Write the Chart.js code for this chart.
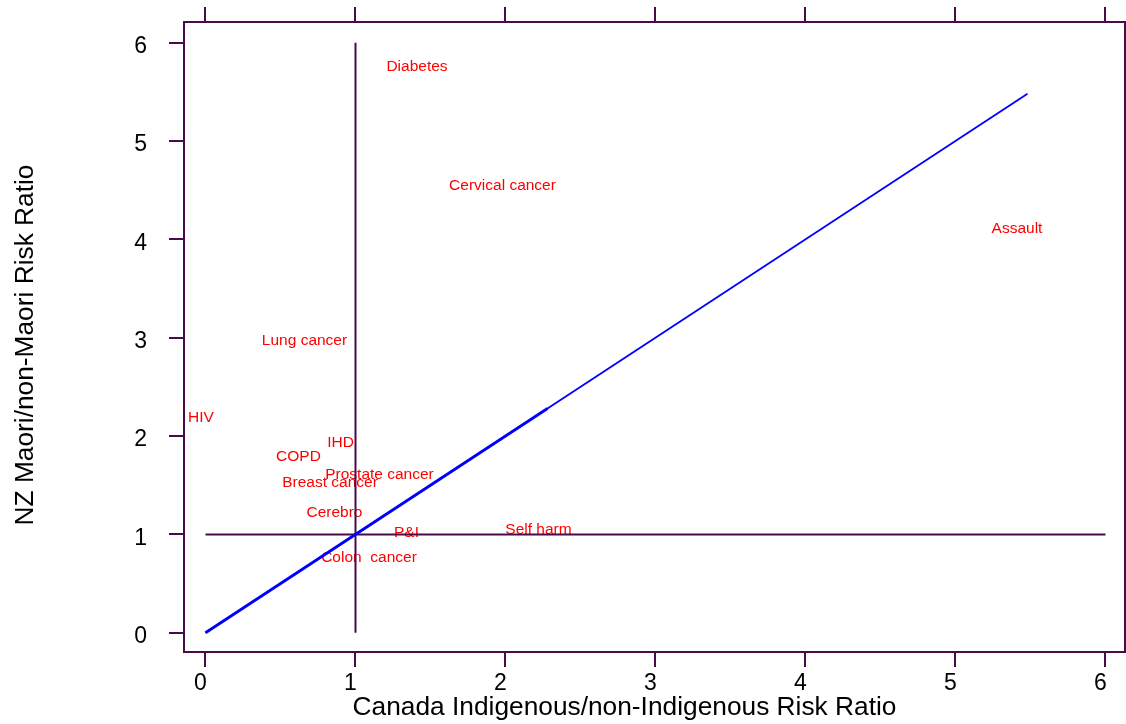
<!DOCTYPE html>
<html>
<head>
<meta charset="utf-8">
<script src="https://cdn.jsdelivr.net/npm/chart.js@4.4.1/dist/chart.umd.min.js"></script>
<style>
  html, body { margin: 0; padding: 0; background: #fff; }
</style>
</head>
<body>
<canvas id="chart" width="1126" height="724"></canvas>
<script>
// risk ratios (label sits at the point)
const causes = ["Diabetes", "Cervical cancer", "Assault", "Lung cancer", "HIV", "IHD", "COPD",
  "Prostate cancer", "Breast cancer", "Cerebro", "P&I", "Self harm", "Colon  cancer"];
const canadaRR = [1.41, 1.98, 5.41, 0.66, -0.03, 0.90, 0.62, 1.16, 0.83, 0.86, 1.34, 2.22, 1.09];
const nzRR = [5.77, 4.56, 4.12, 2.98, 2.20, 1.94, 1.80, 1.62, 1.54, 1.23, 1.03, 1.06, 0.78];

const tickValues = [0, 1, 2, 3, 4, 5, 6];

// equality line (drawn thicker over its first part in the original)
const equalX = [0, 5.48];
const equalY = [0, 5.48];
const equalThickX = [0, 2.28];
const equalThickY = [0, 2.28];

// reference lines at RR = 1
const vertX = [1, 1];
const vertY = [0, 6];
const horizX = [0, 6];
const horizY = [1, 1];

const xTitle = "Canada Indigenous/non-Indigenous Risk Ratio";
const yTitle = "NZ Maori/non-Maori Risk Ratio";

const FONT = '"Liberation Sans", Arial, sans-serif';
const FRAME = "#4a0a4a";

const pts = (xs, ys) => xs.map((x, i) => ({ x, y: ys[i] }));

const labelPlugin = {
  id: "causeLabels",
  beforeDatasetsDraw(chart) {
    const meta = chart.getDatasetMeta(0);
    const ctx = chart.ctx;
    ctx.save();
    ctx.font = "15.5px " + FONT;
    ctx.fillStyle = "#ff0000";
    ctx.textAlign = "center";
    ctx.textBaseline = "alphabetic";
    meta.data.forEach((p, i) => ctx.fillText(causes[i], p.x, p.y + 5.5));
    ctx.restore();
  },
};

const titlePlugin = {
  id: "axisTitles",
  afterDraw(chart) {
    const ctx = chart.ctx;
    ctx.save();
    ctx.font = "26.3px " + FONT;
    ctx.fillStyle = "#000";
    ctx.textAlign = "center";
    ctx.textBaseline = "alphabetic";
    ctx.fillText(xTitle, 624.5, 715);
    ctx.translate(33, 345);
    ctx.rotate(-Math.PI / 2);
    ctx.fillText(yTitle, 0, 0);
    ctx.restore();
  },
};

const setTicks = (s) => { s.ticks = tickValues.map((v) => ({ value: v })); };
const grid = () => ({ drawOnChartArea: false, drawTicks: true, tickLength: 15, color: FRAME, lineWidth: 2 });
const border = () => ({ display: true, color: FRAME, width: 2 });
const fitH = (h) => (s) => { s.height = h; s.paddingLeft = 0; s.paddingRight = 0; };
const fitW = (w) => (s) => { s.width = w; s.paddingTop = 0; s.paddingBottom = 0; };

const X_MIN = -0.1433, X_MAX = 6.13;
const Y_MIN = -0.196, Y_MAX = 6.21;

new Chart(document.getElementById("chart"), {
  type: "scatter",
  data: {
    datasets: [
      { data: pts(canadaRR, nzRR), pointRadius: 0, order: 5 },
      { data: pts(vertX, vertY), showLine: true, pointRadius: 0, borderColor: FRAME, borderWidth: 2, order: 3 },
      { data: pts(horizX, horizY), showLine: true, pointRadius: 0, borderColor: FRAME, borderWidth: 2, order: 3 },
      { data: pts(equalX, equalY), showLine: true, pointRadius: 0, borderColor: "#0000ff", borderWidth: 1.8, order: 1 },
      { data: pts(equalThickX, equalThickY), showLine: true, pointRadius: 0, borderColor: "#0000ff", borderWidth: 2.8, order: 0 },
    ],
  },
  options: {
    responsive: false,
    animation: false,
    layout: { padding: 0 },
    plugins: { legend: { display: false }, tooltip: { enabled: false } },
    scales: {
      x: {
        type: "linear", position: "bottom", min: X_MIN, max: X_MAX,
        afterBuildTicks: setTicks,
        afterFit: fitH(72),
        grid: grid(), border: border(),
        ticks: { font: { family: FONT, size: 23 }, color: "#000", padding: 3, labelOffset: -5, maxRotation: 0, autoSkip: false },
      },
      xTop: {
        type: "linear", position: "top", min: X_MIN, max: X_MAX,
        afterBuildTicks: setTicks,
        afterFit: fitH(22),
        grid: grid(), border: border(),
        ticks: { display: false },
      },
      y: {
        type: "linear", position: "left", min: Y_MIN, max: Y_MAX,
        afterBuildTicks: setTicks,
        afterFit: fitW(184),
        grid: grid(), border: border(),
        ticks: { font: { family: FONT, size: 23 }, color: "#000", padding: 22, labelOffset: 4, autoSkip: false },
      },
      yRight: {
        type: "linear", position: "right", min: Y_MIN, max: Y_MAX,
        afterFit: fitW(1),
        grid: { display: false }, border: border(),
        ticks: { display: false },
      },
    },
  },
  plugins: [labelPlugin, titlePlugin],
});
</script>
</body>
</html>
